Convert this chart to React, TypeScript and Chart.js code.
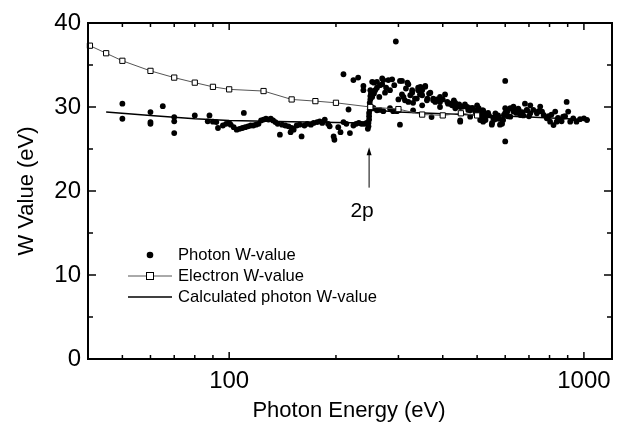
import React, { useEffect, useRef } from "react";
import { Chart, registerables } from "chart.js";

Chart.register(...registerables);

const FONT = "'Liberation Sans', Arial, Helvetica, sans-serif";

// ---- Data ----
const photonPoints: [number, number][] = [
  [50, 30.4], [50, 28.6], [60, 29.4], [60, 28.2], [60, 28.0], [65, 30.1], [70, 28.8], [70, 28.3], [70, 26.9],
  [80, 29.0], [87, 28.3], [88, 29.0], [90, 28.25], [92, 28.2], [93, 27.5], [96, 27.8], [98, 28.0], [100, 28.1],
  [101, 27.9], [103, 27.6], [105, 27.3], [107, 27.4], [109, 27.5], [110, 29.3], [111, 27.6], [113, 27.7],
  [115, 27.8], [117, 27.8], [119, 27.9], [121, 28.0], [123, 28.4], [125, 28.5], [127, 28.6], [129, 28.5],
  [131, 28.6], [133, 28.4], [135, 28.2], [137, 28.0], [139, 26.7], [141, 27.9], [144, 27.8], [147, 27.7],
  [149, 27.0], [150, 27.5], [152, 27.3], [155, 27.8], [158, 27.9], [160, 26.5], [163, 27.8], [166, 28.0],
  [170, 27.9], [173, 28.1], [177, 28.2], [180, 28.3], [183, 28.1], [186, 28.5], [190, 28.0], [192, 27.7],
  [197, 26.5], [198, 26.1], [203, 27.6], [206, 27.0], [210, 28.2], [210, 33.9], [214, 28.0], [217, 29.7],
  [219, 26.9], [224, 33.2], [224, 27.8], [228, 28.0], [231, 33.5], [232, 28.1], [236, 28.0], [239, 32.5],
  [239, 32.0], [240, 28.0], [244, 28.1],
  [246, 27.4], [247, 27.7], [247, 28.1], [248, 28.5], [248, 28.9], [248, 29.3], [249, 29.7], [249, 30.1],
  [249, 30.5], [250, 30.9], [250, 31.3], [251, 31.6], [250, 32.0], [253, 31.2], [256, 31.6], [258, 32.0],
  [256, 32.9], [261, 32.3], [266, 32.6], [270, 32.7], [272, 33.2], [275, 31.7], [284, 32.0], [288, 33.3],
  [295, 37.8], [307, 33.1], [320, 32.7],
  [253, 33.0], [261, 33.0], [270, 33.4], [281, 33.2], [303, 33.1], [318, 32.9], [341, 32.3], [357, 32.4],
  [350, 32.0], [324, 31.4], [300, 30.9], [310, 31.2], [334, 31.0], [361, 30.8], [376, 31.0], [406, 31.5],
  [393, 30.6], [420, 30.4], [439, 30.1], [457, 30.05], [478, 29.85], [500, 29.65], [520, 29.25], [448, 28.25],
  [510, 28.45], [303, 27.9],
  [255, 29.9], [261, 29.6], [266, 29.65], [272, 29.5], [284, 29.85], [290, 29.5], [297, 29.5], [300, 29.6],
  [307, 31.5], [313, 30.8], [320, 30.6], [328, 31.7], [330, 30.5], [330, 29.6], [338, 31.0], [341, 32.0],
  [346, 32.4], [350, 30.2], [350, 31.4], [357, 32.5], [362, 31.0], [369, 31.7], [372, 28.8], [376, 30.8],
  [381, 30.6], [393, 31.2], [393, 30.0], [412, 30.6], [414, 30.4], [425, 30.2], [434, 30.5], [434, 29.85],
  [448, 30.0], [448, 28.4], [453, 30.05], [469, 30.0], [472, 29.65], [478, 29.6], [478, 28.85], [494, 29.45],
  [500, 30.2], [500, 29.4], [510, 29.05], [517, 28.45], [520, 29.6], [520, 28.8], [537, 29.3], [551, 28.1],
  [555, 28.7], [573, 29.0], [588, 28.0], [592, 28.45], [600, 29.3], [620, 28.85], [640, 29.6], [653, 29.8],
  [670, 29.4], [692, 29.6], [706, 30.2],
  [517, 29.6], [522, 29.3], [520, 28.25], [532, 29.05], [528, 28.45], [550, 27.9], [563, 29.25], [568, 28.85],
  [580, 27.9], [588, 28.45], [595, 29.05], [600, 29.85], [600, 33.1], [600, 25.9], [608, 29.45], [620, 29.85],
  [633, 30.05], [633, 29.45], [655, 29.65], [662, 29.05], [682, 30.4], [690, 29.65], [706, 29.25], [720, 29.65],
  [737, 29.25], [753, 30.05], [762, 29.45], [770, 29.05], [786, 28.65], [803, 28.25], [821, 27.85], [830, 29.45],
  [838, 28.25], [855, 28.45], [874, 28.85], [894, 30.6], [903, 29.45], [915, 28.25], [933, 28.65], [953, 28.25],
  [975, 28.55], [1000, 28.65], [1020, 28.45],
  [575, 28.6], [610, 28.9], [645, 29.3], [675, 29.0], [700, 28.9], [745, 29.5], [795, 28.9], [810, 29.1],
  [845, 28.7], [865, 28.3], [885, 28.9],
  [265, 31.2], [277, 32.3], [292, 32.6], [315, 32.2], [328, 32.0], [345, 31.5], [366, 31.6], [385, 30.9],
  [400, 30.9], [430, 30.8], [445, 30.3], [462, 30.3], [485, 29.9], [505, 29.85], [540, 29.0], [560, 28.5],
];

const electronE = [40.5, 45, 50, 60, 70, 80, 90, 100, 125, 150, 175, 200, 250, 300, 350, 400, 450, 500];
const electronW = [37.3, 36.4, 35.5, 34.3, 33.5, 32.9, 32.4, 32.1, 31.9, 30.9, 30.7, 30.5, 30.0, 29.75, 29.1, 29.0, 29.25, 29.0];

const calcE = [45, 60, 80, 100, 150, 200, 246, 248, 252, 270, 300, 400, 500, 700, 1000, 1040];
const calcW = [29.4, 29.0, 28.6, 28.4, 28.25, 28.15, 28.1, 29.2, 29.6, 29.55, 29.4, 29.2, 29.05, 28.8, 28.5, 28.45];

const seriesLabels = ["Photon W-value", "Electron W-value", "Calculated photon W-value"];

const xMajorTicks = [100, 1000];
const xMinorTicks = [50, 60, 70, 80, 90, 200, 300, 400, 500, 600, 700, 800, 900];
const yMajorTicks = [0, 10, 20, 30, 40];
const yMinorTicks = [5, 15, 25, 35];

const edgeEnergy = 248;
const edgeLabel = "2p";
const arrowFromW = 20.4;
const arrowToW = 25.2;

const xTitle = "Photon Energy (eV)";
const yTitle = "W Value (eV)";

const decorPlugin = {
  id: "decor",
  afterDraw(chart: any) {
    const { ctx, chartArea: a, scales } = chart;
    const xs = scales.x;
    const ys = scales.y;
    ctx.save();
    ctx.strokeStyle = "#000";
    ctx.fillStyle = "#000";
    const line = (x1: number, y1: number, x2: number, y2: number) => {
      ctx.beginPath();
      ctx.moveTo(x1, y1);
      ctx.lineTo(x2, y2);
      ctx.stroke();
    };
    // inward ticks
    ctx.lineWidth = 1.5;
    const tx = (v: number, len: number) => {
      const p = xs.getPixelForValue(v);
      line(p, a.bottom, p, a.bottom - len);
      line(p, a.top, p, a.top + len);
    };
    const ty = (v: number, len: number) => {
      const p = ys.getPixelForValue(v);
      line(a.left, p, a.left + len, p);
      line(a.right, p, a.right - len, p);
    };
    xMajorTicks.forEach((v) => tx(v, 7));
    xMinorTicks.forEach((v) => tx(v, 4));
    yMajorTicks.forEach((v) => ty(v, 8));
    yMinorTicks.forEach((v) => ty(v, 5));
    // frame
    ctx.lineWidth = 2;
    ctx.strokeRect(a.left, a.top, a.right - a.left, a.bottom - a.top);

    // legend
    ctx.font = `16.6px ${FONT}`;
    ctx.textAlign = "left";
    ctx.textBaseline = "middle";
    const lx = 150;
    const ly = [255, 276, 297];
    ctx.beginPath();
    ctx.arc(lx, ly[0], 3.3, 0, Math.PI * 2);
    ctx.fill();
    ctx.strokeStyle = "#555";
    ctx.lineWidth = 1;
    line(128, ly[1], 172, ly[1]);
    ctx.fillStyle = "#fff";
    ctx.fillRect(lx - 3.5, ly[1] - 3.5, 7, 7);
    ctx.strokeStyle = "#000";
    ctx.strokeRect(lx - 3.5, ly[1] - 3.5, 7, 7);
    ctx.lineWidth = 1.5;
    line(128, ly[2], 172, ly[2]);
    ctx.fillStyle = "#000";
    seriesLabels.forEach((t, i) => ctx.fillText(t, 178, ly[i] + 0.5));

    // arrow + 2p
    const ax = xs.getPixelForValue(edgeEnergy);
    const ay1 = ys.getPixelForValue(arrowFromW);
    const ay2 = ys.getPixelForValue(arrowToW);
    ctx.lineWidth = 1;
    line(ax, ay1, ax, ay2 + 6);
    ctx.beginPath();
    ctx.moveTo(ax, ay2);
    ctx.lineTo(ax - 2.5, ay2 + 8);
    ctx.lineTo(ax + 2.5, ay2 + 8);
    ctx.closePath();
    ctx.fill();
    ctx.font = `21px ${FONT}`;
    ctx.textAlign = "center";
    ctx.textBaseline = "alphabetic";
    ctx.fillText(edgeLabel, ax - 7, ay1 + 29);

    // axis titles
    ctx.font = `22px ${FONT}`;
    ctx.textAlign = "center";
    ctx.textBaseline = "alphabetic";
    ctx.fillText(xTitle, (a.left + a.right) / 2 - 1, 417);
    ctx.save();
    ctx.translate(33, (a.top + a.bottom) / 2);
    ctx.rotate(-Math.PI / 2);
    ctx.fillText(yTitle, 0, 0);
    ctx.restore();

    ctx.restore();
  },
};

const whiteBg = {
  id: "whiteBg",
  beforeDraw(chart: any) {
    const { ctx, width, height } = chart;
    ctx.save();
    ctx.fillStyle = "#fff";
    ctx.fillRect(0, 0, width, height);
    ctx.restore();
  },
};

export default function App() {
  const ref = useRef<HTMLCanvasElement | null>(null);
  useEffect(() => {
    if (!ref.current) return;
    const chart = new Chart(ref.current, {
      type: "scatter",
      data: {
        datasets: [
          {
            label: seriesLabels[1],
            data: electronE.map((e, i) => ({ x: e, y: electronW[i] })),
            showLine: true,
            borderColor: "#555",
            borderWidth: 1,
            pointStyle: "rect",
            pointRadius: 3.7,
            pointBackgroundColor: "#fff",
            pointBorderColor: "#000",
            pointBorderWidth: 1,
            order: 1,
            clip: 8,
          } as any,
          {
            label: seriesLabels[2],
            data: calcE.map((e, i) => ({ x: e, y: calcW[i] })),
            showLine: true,
            borderColor: "#000",
            borderWidth: 1.5,
            pointRadius: 0,
            order: 2,
          } as any,
          {
            label: seriesLabels[0],
            data: photonPoints.map(([e, w]) => ({ x: e, y: w })),
            pointRadius: 2.9,
            pointBackgroundColor: "#000",
            pointBorderColor: "#000",
            pointBorderWidth: 0,
            order: 3,
          } as any,
        ],
      },
      options: {
        animation: false,
        responsive: true,
        maintainAspectRatio: false,
        devicePixelRatio: 1,
        layout: { padding: { top: 23, right: 13, left: 0, bottom: 0 } },
        plugins: { legend: { display: false }, tooltip: { enabled: false } },
        scales: {
          x: {
            type: "logarithmic",
            min: 40,
            max: 1200,
            grid: { display: false, drawTicks: false },
            border: { display: false },
            ticks: {
              autoSkip: false,
              maxRotation: 0,
              padding: 8,
              color: "#000",
              font: { family: FONT, size: 24 },
              callback: (v: any) => (xMajorTicks.includes(Number(v)) ? String(v) : ""),
            },
            afterFit: (s: any) => {
              s.height = 72;
            },
          },
          y: {
            type: "linear",
            min: 0,
            max: 40,
            grid: { display: false, drawTicks: false },
            border: { display: false },
            ticks: {
              stepSize: 10,
              padding: 7,
              color: "#000",
              font: { family: FONT, size: 24 },
            },
            afterFit: (s: any) => {
              s.width = 88;
            },
          },
        },
      },
      plugins: [whiteBg, decorPlugin],
    });
    return () => chart.destroy();
  }, []);
  return (
    <div style={{ position: "fixed", left: 0, top: 0, width: 625, height: 431, background: "#fff" }}>
      <canvas ref={ref} />
    </div>
  );
}
